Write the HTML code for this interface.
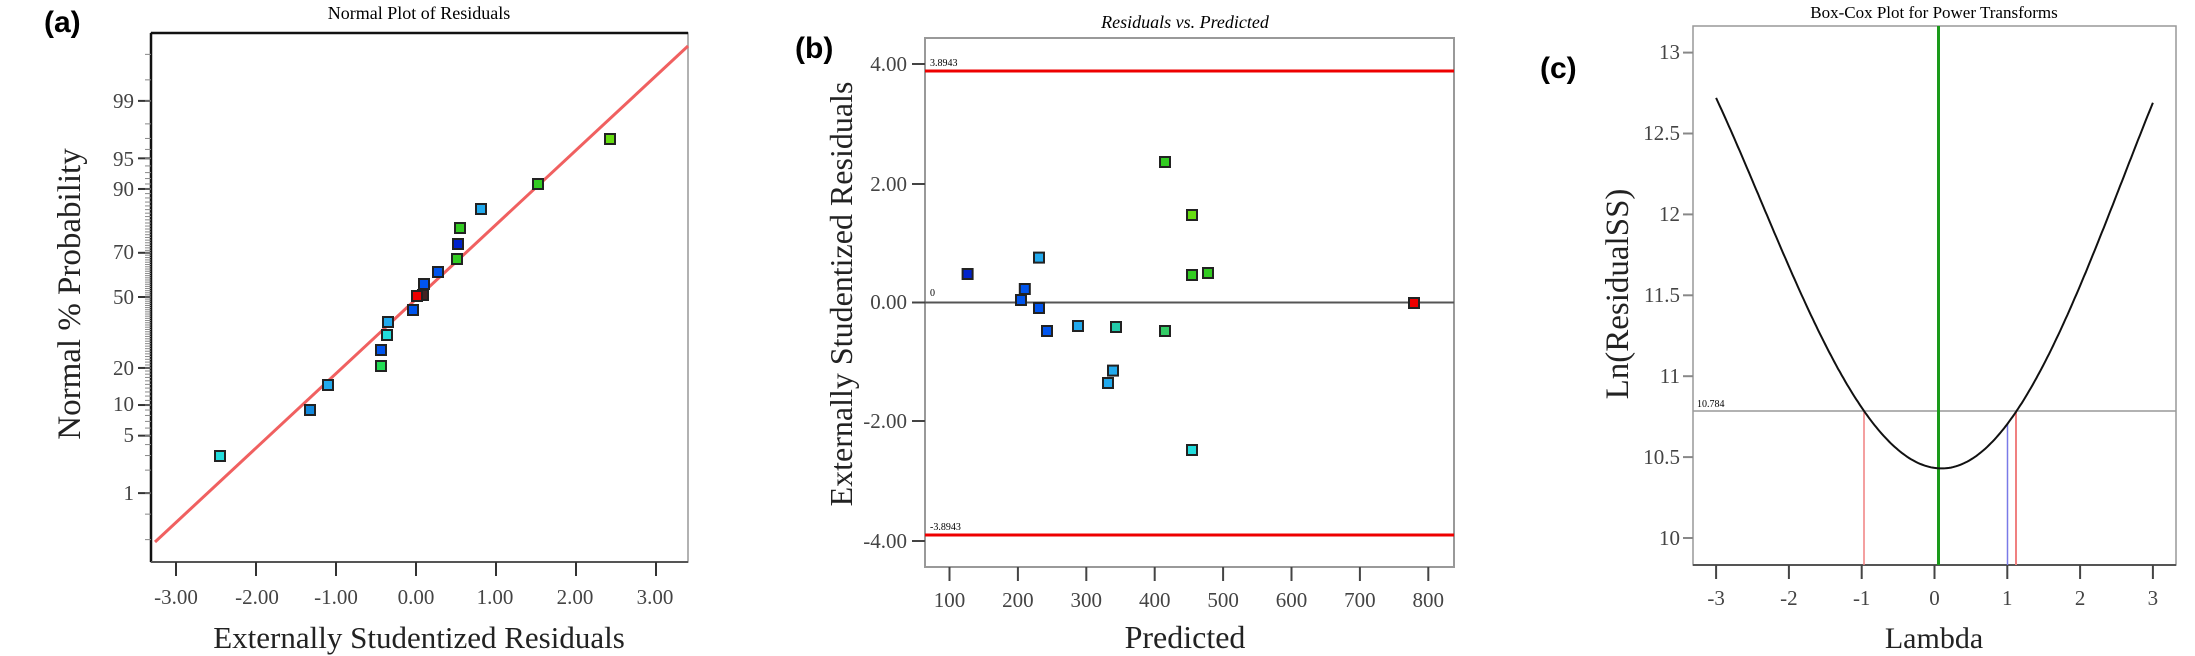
<!DOCTYPE html>
<html><head><meta charset="utf-8"><style>
body{margin:0;background:#fff;}
svg{display:block;font-family:"Liberation Serif",serif;}
</style></head><body>
<svg id="s" width="2195" height="656" viewBox="0 0 2195 656" xmlns="http://www.w3.org/2000/svg">
<rect width="2195" height="656" fill="#fff"/>
<!-- Panel a -->
<text x="44" y="32" font-family="Liberation Sans,sans-serif" font-weight="bold" font-size="30">(a)</text>
<text x="419" y="19" font-size="18" text-anchor="middle">Normal Plot of Residuals</text>
<rect x="151" y="33" width="537" height="529" fill="none" stroke="#999" stroke-width="1.5"/>
<line x1="151" y1="33" x2="688" y2="33" stroke="#111" stroke-width="2.5"/>
<line x1="151" y1="33" x2="151" y2="562" stroke="#111" stroke-width="2.5"/>
<line x1="151" y1="562" x2="688" y2="562" stroke="#555" stroke-width="2"/>
<g id="aticks" stroke="#333" stroke-width="2"></g>
<g font-size="21" fill="#444" text-anchor="end">
<text x="134" y="108">99</text><text x="134" y="166">95</text><text x="134" y="196">90</text>
<text x="134" y="259">70</text><text x="134" y="304">50</text><text x="134" y="375">20</text>
<text x="134" y="411">10</text><text x="134" y="442">5</text><text x="134" y="500">1</text>
</g>
<g font-size="21" fill="#444" text-anchor="middle">
<text x="176" y="604">-3.00</text><text x="257" y="604">-2.00</text><text x="336" y="604">-1.00</text>
<text x="416" y="604">0.00</text><text x="495" y="604">1.00</text><text x="575" y="604">2.00</text><text x="655" y="604">3.00</text>
</g>
<line x1="155" y1="542" x2="688" y2="46" stroke="#f06060" stroke-width="3"/>
<text x="419" y="648" font-size="31" text-anchor="middle" fill="#222">Externally Studentized Residuals</text>
<text transform="translate(80,294) rotate(-90)" font-size="33" text-anchor="middle" fill="#222">Normal % Probability</text>
<g id="apts" stroke="#222" stroke-width="2"></g>

<!-- Panel b -->
<text x="795" y="58" font-family="Liberation Sans,sans-serif" font-weight="bold" font-size="30">(b)</text>
<text x="1185" y="28" font-size="18" font-style="italic" text-anchor="middle">Residuals vs. Predicted</text>
<rect x="925" y="38" width="529" height="529" fill="none" stroke="#999" stroke-width="2"/>
<line x1="925" y1="71" x2="1454" y2="71" stroke="#e00" stroke-width="3"/>
<line x1="925" y1="535" x2="1454" y2="535" stroke="#e00" stroke-width="3"/>
<line x1="925" y1="302.5" x2="1454" y2="302.5" stroke="#555" stroke-width="2"/>
<text x="930" y="66" font-size="10">3.8943</text>
<text x="930" y="530" font-size="10">-3.8943</text>
<text x="930" y="296" font-size="10">0</text>
<g stroke="#444" stroke-width="2">
<line x1="912" y1="64" x2="925" y2="64"/><line x1="912" y1="184" x2="925" y2="184"/>
<line x1="912" y1="302.5" x2="925" y2="302.5"/><line x1="912" y1="421" x2="925" y2="421"/>
<line x1="912" y1="541" x2="925" y2="541"/>
</g>
<g font-size="21" fill="#444" text-anchor="end">
<text x="907" y="71">4.00</text><text x="907" y="191">2.00</text><text x="907" y="309">0.00</text>
<text x="907" y="428">-2.00</text><text x="907" y="548">-4.00</text>
</g>
<g id="bx" stroke="#444" stroke-width="2"></g>
<g id="bxl" font-size="21" fill="#444" text-anchor="middle"></g>
<text x="1185" y="648" font-size="32" text-anchor="middle" fill="#222">Predicted</text>
<text transform="translate(852,294) rotate(-90)" font-size="32" text-anchor="middle" fill="#222">Externally Studentized Residuals</text>
<g id="bpts" stroke="#222" stroke-width="2"></g>

<!-- Panel c -->
<text x="1540" y="78" font-family="Liberation Sans,sans-serif" font-weight="bold" font-size="30">(c)</text>
<text x="1934" y="18" font-size="17" text-anchor="middle">Box-Cox Plot for Power Transforms</text>
<rect x="1693" y="26" width="483" height="539" fill="none" stroke="#999" stroke-width="1.5"/>
<line x1="1693" y1="565" x2="2176" y2="565" stroke="#555" stroke-width="2"/>
<line x1="1693" y1="411" x2="2176" y2="411" stroke="#999" stroke-width="1.5"/>
<text x="1697" y="407" font-size="10">10.784</text>
<line x1="1938.5" y1="26" x2="1938.5" y2="565" stroke="#1a9a1a" stroke-width="3"/>
<line x1="1864" y1="411" x2="1864" y2="565" stroke="#f08080" stroke-width="1.5"/>
<line x1="2016" y1="411" x2="2016" y2="565" stroke="#f08080" stroke-width="2"/>
<line x1="2007.5" y1="423" x2="2007.5" y2="565" stroke="#7a7ae8" stroke-width="1.5"/>
<path id="curve" fill="none" stroke="#111" stroke-width="2"/>
<g id="cy" stroke="#888" stroke-width="2"></g>
<g font-size="21" fill="#444" text-anchor="end">
<text x="1680" y="59">13</text><text x="1680" y="140">12.5</text><text x="1680" y="221">12</text>
<text x="1680" y="302">11.5</text><text x="1680" y="383">11</text><text x="1680" y="464">10.5</text><text x="1680" y="545">10</text>
</g>
<g id="cx" stroke="#444" stroke-width="2"></g>
<g id="cxl" font-size="21" fill="#444" text-anchor="middle"></g>
<text x="1934" y="648" font-size="30" text-anchor="middle" fill="#222">Lambda</text>
<text transform="translate(1628,294) rotate(-90)" font-size="33" text-anchor="middle" fill="#222">Ln(ResidualSS)</text>
</svg>
<script>
const NS="http://www.w3.org/2000/svg";
function el(p,t,a,txt){const e=document.createElementNS(NS,t);for(const k in a)e.setAttribute(k,a[k]);if(txt!==undefined)e.textContent=txt;document.getElementById(p).appendChild(e);}
[-3,-2,-1,0,1,2,3].forEach(v=>{const x=416+80*v;el('aticks','line',{x1:x,y1:562,x2:x,y2:576});});
function z(p){
 const a=[-39.696830,220.946098,-275.928510,138.357751,-30.664798,2.506628],b=[-54.476098,161.585836,-155.698979,66.801311,-13.280681],c=[-0.007784894,-0.3223964,-2.400758,-2.549732,4.374664,2.938163],d=[0.007784695,0.3224671,2.445134,3.754408];
 let q,r;if(p<0.02425){q=Math.sqrt(-2*Math.log(p));return (((((c[0]*q+c[1])*q+c[2])*q+c[3])*q+c[4])*q+c[5])/((((d[0]*q+d[1])*q+d[2])*q+d[3])*q+1);}
 if(p>1-0.02425){q=Math.sqrt(-2*Math.log(1-p));return -(((((c[0]*q+c[1])*q+c[2])*q+c[3])*q+c[4])*q+c[5])/((((d[0]*q+d[1])*q+d[2])*q+d[3])*q+1);}
 q=p-0.5;r=q*q;return (((((a[0]*r+a[1])*r+a[2])*r+a[3])*r+a[4])*r+a[5])*q/(((((b[0]*r+b[1])*r+b[2])*r+b[3])*r+b[4])*r+1);}
[1,5,10,20,50,70,90,95,99].forEach(p=>{const y=297-84.3*z(p/100);el('aticks','line',{x1:138,y1:y,x2:151,y2:y});});
for(let p=1;p<=99;p+=1){const y=297-84.3*z(p/100);el('aticks','line',{x1:145,y1:y,x2:151,y2:y,'stroke-width':1,stroke:'#888'});}
[0.2,0.5,99.5,99.8].forEach(p=>{const y=297-84.3*z(p/100);el('aticks','line',{x1:145,y1:y,x2:151,y2:y,'stroke-width':1,stroke:'#888'});});
const G='#33cc22',B='#0055ee',LB='#22aaee',C='#22dddd',DB='#0022cc',R='#ee0000',T='#22ccaa',YG='#66dd11';
[[220,456,C],[310,410,'#1188dd'],[328,385,LB],[381,366,'#22dd55'],[381,350,B],[387,335,C],[388,322,LB],[413,310,B],[423,295,'#442222'],[417,296,R],[424,284,B],[438,272,B],[457,259,G],[458,244,DB],[460,228,G],[481,209,LB],[538,184,G],[610,139,YG]]
.forEach(p=>el('apts','rect',{x:p[0]-5,y:p[1]-5,width:10,height:10,fill:p[2]}));
for(let v=100;v<=800;v+=100){const x=949.5+(v-100)*0.684;el('bx','line',{x1:x,y1:567,x2:x,y2:581});el('bxl','text',{x:x,y:607},String(v));}
[[967.6,274,DB],[1024.8,289,B],[1021,300,B],[1039,257.6,LB],[1039,308,B],[1047,331,B],[1078,326,LB],[1116,327,T],[1108,383,LB],[1113,370.6,LB],[1165,162,G],[1165,331,'#33cc66'],[1192,215,YG],[1192,275,G],[1208,273,G],[1192,450,C],[1414,303,R]]
.forEach(p=>el('bpts','rect',{x:p[0]-5,y:p[1]-5,width:10,height:10,fill:p[2]}));
[10,10.5,11,11.5,12,12.5,13].forEach(v=>{const y=538-(v-10)*161.8;el('cy','line',{x1:1683,y1:y,x2:1693,y2:y});});
for(let v=-3;v<=3;v++){const x=1934.5+72.8*v;el('cx','line',{x1:x,y1:565,x2:x,y2:579});el('cxl','text',{x:x,y:605},String(v));}
let d="";for(let i=0;i<=240;i++){const l=-3+6*i/240;const t=l-0.1;let v;
 if(t<0)v=10.43+0.3212*t*t-0.00863*t**4;else v=10.43+0.346*t*t-0.00918*t**4;
 const x=1934.5+72.8*l,y=538-(v-10)*161.8;d+=(i?"L":"M")+x.toFixed(1)+","+y.toFixed(1);}
document.getElementById('curve').setAttribute('d',d);
</script>
</body></html>
